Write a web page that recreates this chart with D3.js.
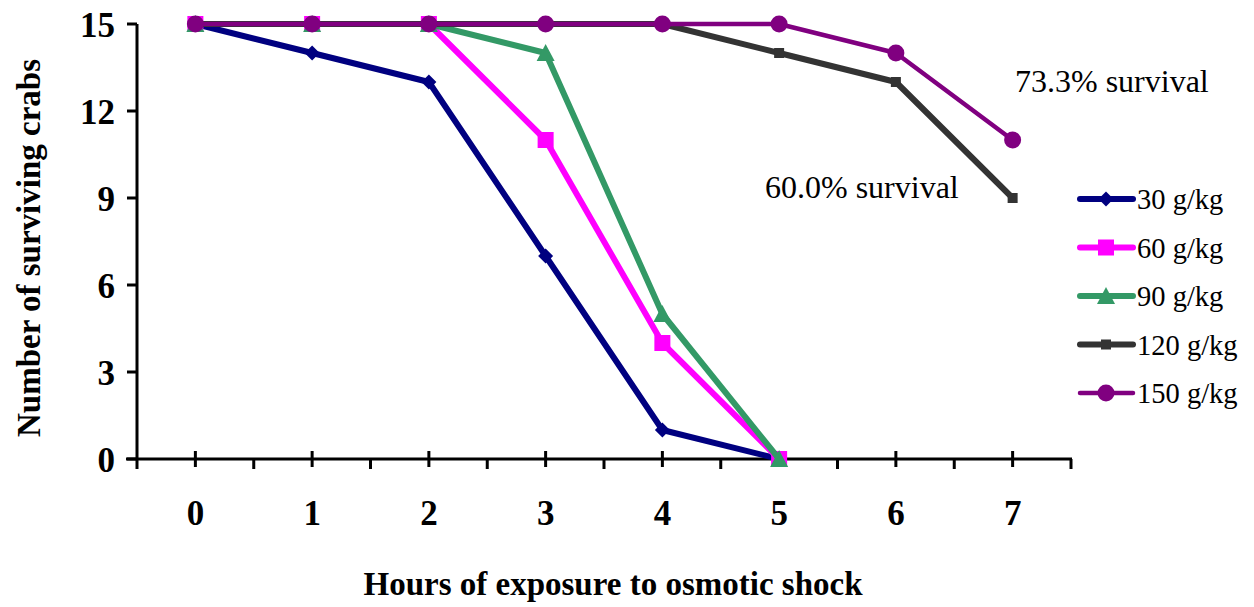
<!DOCTYPE html>
<html>
<head>
<style>
  body { margin: 0; background: #fff; }
  svg { display: block; font-family: "Liberation Serif", "Times New Roman", serif; }
  .tick-label { font-size: 35px; font-weight: bold; fill: #000; }
  .axis-title { font-size: 33px; font-weight: bold; fill: #000; }
  .note { font-size: 32px; fill: #000; }
  .legend text { font-size: 28.5px; fill: #000; }
</style>
<script src="https://d3js.org/d3.v7.min.js"></script>
</head>
<body>
<svg id="chart" width="1254" height="607"></svg>
<script>
// hours of exposure
const hours = [0, 1, 2, 3, 4, 5, 6, 7];
const yTicks = [0, 3, 6, 9, 12, 15];

// surviving crabs per salinity
const s30 = [15, 14, 13, 7, 1, 0];
const s60 = [15, 15, 15, 11, 4, 0];
const s90 = [15, 15, 15, 14, 5, 0];
const s120 = [15, 15, 15, 15, 15, 14, 13, 9];
const s150 = [15, 15, 15, 15, 15, 15, 14, 11];

const seriesNames = ['30 g/kg', '60 g/kg', '90 g/kg', '120 g/kg', '150 g/kg'];
const seriesValues = [s30, s60, s90, s120, s150];
const colors = ['#000080', '#ff00ff', '#339966', '#333333', '#800080'];
const markers = ['diamond', 'square', 'triangle', 'smallsquare', 'circle'];
const widths = [6, 6, 6, 6, 4.5];

const svg = d3.select('#chart');

const plotLeft = 137, plotRight = 1071, plotTop = 24, plotBottom = 459;

// category axis: each hour sits in the middle of its band
const x = d3.scaleLinear().domain([-0.5, 7.5]).range([plotLeft, plotRight]);
const y = d3.scaleLinear().domain([0, 15]).range([plotBottom, plotTop]);

// y axis
const gy = svg.append('g');
gy.append('line').attr('x1', plotLeft).attr('x2', plotLeft).attr('y1', plotTop).attr('y2', plotBottom)
  .attr('stroke', '#000').attr('stroke-width', 3);
gy.selectAll('line.tk').data(yTicks).enter().append('line').attr('class', 'tk')
  .attr('x1', plotLeft - 10).attr('x2', plotLeft).attr('y1', d => y(d)).attr('y2', d => y(d))
  .attr('stroke', '#000').attr('stroke-width', 3);
gy.selectAll('text').data(yTicks).enter().append('text')
  .attr('class', 'tick-label')
  .attr('x', 115).attr('y', d => y(d) + 13)
  .attr('text-anchor', 'end')
  .text(d => d);

// x axis
const gx = svg.append('g');
gx.append('line').attr('x1', plotLeft - 11).attr('x2', plotRight + 1).attr('y1', plotBottom).attr('y2', plotBottom)
  .attr('stroke', '#000').attr('stroke-width', 3);
const bounds = d3.range(-0.5, 8, 1);
gx.selectAll('line.bd').data(bounds).enter().append('line').attr('class', 'bd')
  .attr('x1', d => x(d)).attr('x2', d => x(d)).attr('y1', plotBottom).attr('y2', plotBottom + 10)
  .attr('stroke', '#000').attr('stroke-width', 3);
gx.selectAll('line.ct').data(hours).enter().append('line').attr('class', 'ct')
  .attr('x1', d => x(d)).attr('x2', d => x(d)).attr('y1', plotBottom - 8).attr('y2', plotBottom + 8)
  .attr('stroke', '#000').attr('stroke-width', 3);
gx.selectAll('text').data(hours).enter().append('text')
  .attr('class', 'tick-label')
  .attr('x', d => x(d)).attr('y', 525)
  .attr('text-anchor', 'middle')
  .text(d => d);

// axis titles
svg.append('text').attr('class', 'axis-title')
  .attr('x', 613).attr('y', 595).attr('text-anchor', 'middle')
  .text('Hours of exposure to osmotic shock');
svg.append('text').attr('class', 'axis-title')
  .attr('transform', 'translate(40,248) rotate(-90)').attr('text-anchor', 'middle')
  .text('Number of surviving crabs');

function drawMarker(g, type, color) {
  if (type === 'diamond') {
    g.append('path').attr('d', 'M0,-7.5L7.5,0L0,7.5L-7.5,0Z').attr('fill', color);
  } else if (type === 'square') {
    g.append('rect').attr('x', -8).attr('y', -8).attr('width', 16).attr('height', 16).attr('fill', color);
  } else if (type === 'triangle') {
    g.append('path').attr('d', 'M0,-9L9,8L-9,8Z').attr('fill', color);
  } else if (type === 'smallsquare') {
    g.append('rect').attr('x', -5).attr('y', -5).attr('width', 10).attr('height', 10).attr('fill', color);
  } else {
    g.append('circle').attr('r', 8.5).attr('fill', color);
  }
}

const line = d3.line().x((d, i) => x(hours[i])).y(d => y(d));

seriesValues.forEach((vals, k) => {
  const g = svg.append('g');
  g.append('path').datum(vals).attr('d', line)
    .attr('fill', 'none').attr('stroke', colors[k]).attr('stroke-width', widths[k])
    .attr('stroke-linejoin', 'round');
  vals.forEach((v, i) => {
    const m = g.append('g').attr('transform', `translate(${x(hours[i])},${y(v)})`);
    drawMarker(m, markers[k], colors[k]);
  });
});

// notes
svg.append('text').attr('class', 'note').attr('x', 1015).attr('y', 92).text('73.3% survival');
svg.append('text').attr('class', 'note').attr('x', 765).attr('y', 198).text('60.0% survival');

// legend
const legend = svg.append('g').attr('class', 'legend');
seriesNames.forEach((name, k) => {
  const ly = 199 + k * 48.5;
  const g = legend.append('g');
  g.append('line').attr('x1', 1080).attr('x2', 1133).attr('y1', ly).attr('y2', ly)
    .attr('stroke', colors[k]).attr('stroke-width', widths[k]).attr('stroke-linecap', 'round');
  const m = g.append('g').attr('transform', `translate(1106,${ly})`);
  drawMarker(m, markers[k], colors[k]);
  g.append('text').attr('x', 1137).attr('y', ly + 10).text(name);
});
</script>
</body>
</html>
